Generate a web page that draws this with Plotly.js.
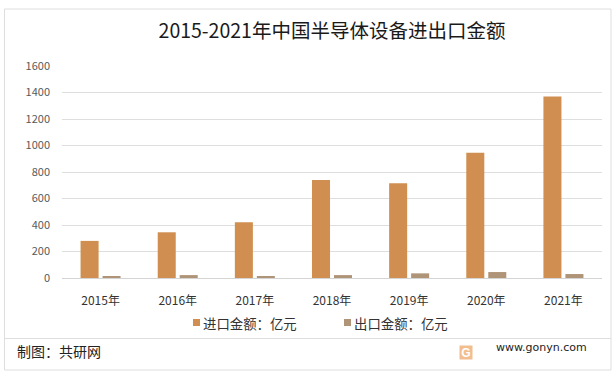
<!DOCTYPE html>
<html><head><meta charset="utf-8">
<script src="https://cdn.plot.ly/plotly-3.0.1.min.js"></script>
<style>html,body{margin:0;padding:0;background:#fff}#c{width:615px;height:375px}</style>
</head><body><div id="c"></div>
<script>
const categories = ['2015年','2016年','2017年','2018年','2019年','2020年','2021年'];
const importValues = [280,345,420,740,715,945,1370];
const exportValues = [15,22,15,22,35,45,30];
const yTicks = [0,200,400,600,800,1000,1200,1400,1600];
const seriesNames = ['进口金额：亿元','出口金额：亿元'];
const seriesColors = ['#D08F50','#B09478'];
const font = '"Noto Sans CJK SC","Noto Sans",sans-serif';
const W = 615, H = 375, mL = 62, mR = 13, mT = 66, mB = 97;
const px = v => (v - mL) / (W - mL - mR), py = v => 1 - (v - mT) / (H - mT - mB);
const traces = [importValues, exportValues].map((y, i) => ({
  type: 'bar', x: categories, y, name: seriesNames[i],
  marker: {color: seriesColors[i]}, hoverinfo: 'skip'
}));
const paperRect = (x0, x1, y0, y1, fill, line) => ({type:'rect', xref:'paper', yref:'paper',
  x0:px(x0), x1:px(x1), y0:py(y1), y1:py(y0), fillcolor:fill, line:{color:line, width: line==='rgba(0,0,0,0)'?0:1}, layer:'below'});
const note = (x, y, text, size, color, anchor, family) => ({xref:'paper', yref:'paper', x:px(x), y:py(y),
  xanchor:anchor||'left', yanchor:'middle', showarrow:false, text, font:{family:family||font, size, color}});
const layout = {
  width: W, height: H, margin: {l: mL, r: mR, t: mT, b: mB},
  paper_bgcolor: '#fff', plot_bgcolor: 'rgba(0,0,0,0)',
  barmode: 'group', bargap: 0.43, bargroupgap: 0.18,
  font: {family: font, color: '#333'},
  title: {text: '2015-2021年中国半导体设备进出口金额', font: {family: font, size: 19.5, color: '#1a1a1a'},
    x: 332 / W, xanchor: 'center', y: 1 - 31 / H, yanchor: 'middle'},
  xaxis: {type: 'category', tickfont: {size: 12, color: '#333'}, ticks: '', ticklabelstandoff: 12,
    showgrid: false, showline: true, linecolor: '#D4D4D4', linewidth: 1, automargin: false},
  yaxis: {range: [0, 1600], tickvals: yTicks, tickfont: {size: 11, color: '#595959'}, ticklabelstandoff: 11,
    gridcolor: '#DEDEDE', gridwidth: 1, zeroline: false, ticks: '', automargin: false},
  showlegend: false,
  shapes: [
    paperRect(4.5, 611, 9, 370, 'rgba(0,0,0,0)', '#DEDEDE'),
    {type:'line', xref:'paper', yref:'paper', x0:px(5), x1:px(611), y0:py(338.5), y1:py(338.5), line:{color:'#DEDEDE',width:1}, layer:'below'},
    paperRect(193, 200, 319, 326, seriesColors[0], 'rgba(0,0,0,0)'),
    paperRect(344, 351, 319, 326, seriesColors[1], 'rgba(0,0,0,0)')
  ],
  annotations: [
    note(201, 323, seriesNames[0], 13.4, '#333'),
    note(352, 323, seriesNames[1], 13.4, '#333'),
    note(15, 351, '制图：共研网', 14, '#222'),
    note(493.5, 347, 'www.gonyn.com', 11, '#222', 'left', '"DejaVu Sans",sans-serif'),
    Object.assign(note(466, 352, '<b>G</b>', 12, '#fff', 'center', '"Liberation Sans",sans-serif'),
      {bgcolor:'#F2BE90', width:12, height:13, borderpad:0})
  ]
};
Plotly.newPlot('c', traces, layout, {displayModeBar:false, staticPlot:true});
</script></body></html>
